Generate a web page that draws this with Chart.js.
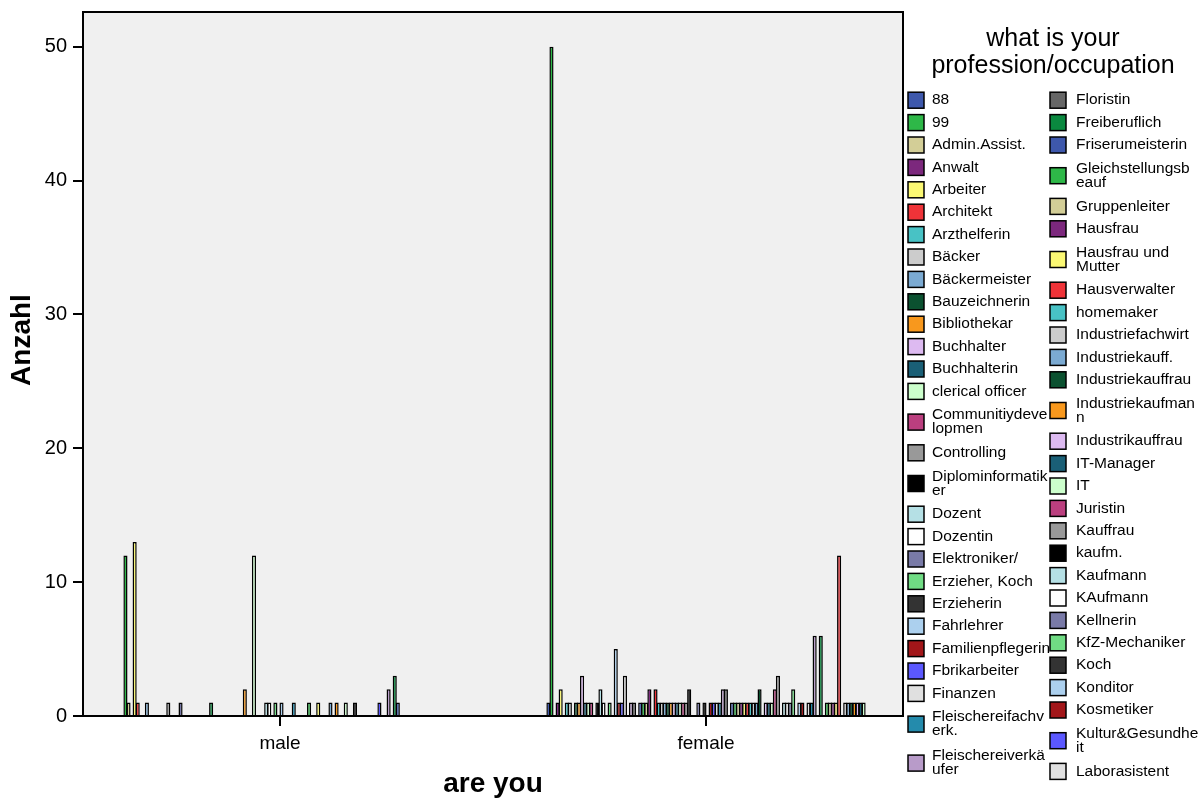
<!DOCTYPE html>
<html>
<head>
<meta charset="utf-8">
<script src="https://cdn.jsdelivr.net/npm/chart.js@4.4.1/dist/chart.umd.min.js"></script>
<style>
  html, body { margin: 0; padding: 0; background: #fff; }
  #wrap { width: 1202px; height: 798px; }
</style>
</head>
<body>
<div id="wrap"><canvas id="chart" width="1202" height="798"></canvas></div>
<script>
// x groups
const groups = ['male', 'female'];

// professions shown in the legend (the rest is cut off, as in the SPSS output)
const professions = [
  '88', '99', 'Admin.Assist.', 'Anwalt', 'Arbeiter', 'Architekt', 'Arzthelferin',
  'Bäcker', 'Bäckermeister', 'Bauzeichnerin', 'Bibliothekar', 'Buchhalter',
  'Buchhalterin', 'clerical officer', 'Communitiydevelopmen', 'Controlling',
  'Diplominformatiker', 'Dozent', 'Dozentin', 'Elektroniker/', 'Erzieher, Koch',
  'Erzieherin', 'Fahrlehrer', 'Familienpflegerin', 'Fbrikarbeiter', 'Finanzen',
  'Fleischereifachverk.', 'Fleischereiverkäufer', 'Floristin', 'Freiberuflich',
  'Friserumeisterin', 'Gleichstellungsbeauf', 'Gruppenleiter', 'Hausfrau',
  'Hausfrau und Mutter', 'Hausverwalter', 'homemaker', 'Industriefachwirt',
  'Industriekauff.', 'Industriekauffrau', 'Industriekaufmann', 'Industrikauffrau',
  'IT-Manager', 'IT', 'Juristin', 'Kauffrau', 'kaufm.', 'Kaufmann', 'KAufmann',
  'Kellnerin', 'KfZ-Mechaniker', 'Koch', 'Konditor', 'Kosmetiker',
  'Kultur&Gesundheit', 'Laborasistent'
];
// categories after "Laborasistent" that the legend no longer shows
const hiddenCount = 48;

// counts per profession (same order)
const male = [
  0, 12, 1, 0, 13, 1, 0, 0, 1, 0,
  0, 0, 0, 0, 0, 1, 0, 0, 0, 1,
  0, 0, 0, 0, 0, 0, 0, 0, 0, 1,
  0, 0, 0, 0, 0, 0, 0, 0, 0, 0,
  2, 0, 0, 12, 0, 0, 0, 1, 1, 0,
  1, 0, 1, 0, 0, 0, 1, 0, 0, 0,
  0, 1, 0, 0, 1, 0, 0, 0, 1, 0,
  1, 0, 0, 1, 0, 0, 1, 0, 0, 0,
  0, 0, 0, 0, 1, 0, 0, 2, 0, 3,
  1, 0, 0, 0, 0, 0, 0, 0, 0, 0,
  0, 0, 0, 0
];
const female = [
  1, 50, 0, 1, 2, 0, 1, 1, 0, 1,
  1, 3, 1, 1, 1, 0, 1, 2, 1, 0,
  1, 0, 5, 1, 1, 3, 0, 1, 1, 0,
  1, 1, 1, 2, 0, 2, 1, 1, 1, 1,
  1, 1, 1, 1, 1, 1, 2, 0, 0, 1,
  0, 1, 0, 1, 1, 1, 1, 2, 2, 0,
  1, 1, 1, 1, 1, 1, 1, 1, 1, 2,
  0, 1, 1, 1, 2, 3, 0, 1, 1, 1,
  2, 0, 1, 1, 0, 1, 1, 6, 0, 6,
  0, 1, 1, 1, 1, 12, 0, 1, 1, 1,
  1, 1, 1, 1
];

const yTicks = [0, 10, 20, 30, 40, 50];

// SPSS default fill cycle (30 colours)
const palette = [
  '#3e58ac', '#2eb848', '#d3ce97', '#7c287d', '#fbf873', '#ef3338', '#48c2c5',
  '#cccccc', '#7baad2', '#0b5130', '#f8981d', '#ddbaf1', '#1a5f76', '#ccffcc',
  '#bb3f7f', '#999999', '#000000', '#b5e0e5', '#ffffff', '#797aa7', '#70dc84',
  '#333333', '#acd0ee', '#a21619', '#5b58ff', '#e0e0e0', '#248bac', '#b89bc9',
  '#666666', '#0a893f'
];

// where SPSS breaks the long legend entries
const legendBreak = {
  'Communitiydevelopmen': 14, 'Diplominformatiker': 16, 'Fleischereifachverk.': 16,
  'Fleischereiverkäufer': 16, 'Gleichstellungsbeauf': 16, 'Hausfrau und Mutter': 13,
  'Industriekaufmann': 16, 'Kultur&Gesundheit': 15
};

const FONT = '"Liberation Sans", Arial, sans-serif';
const allLabels = professions.concat(
  Array.from({length: hiddenCount}, (_, i) => 'weitere ' + (i + 1)));

// SPSS draws the bars a little wider than their slot, so neighbours overlap
const datasets = allLabels.map((name, i) => ({
  label: name,
  data: [
    {x: 0, y: male[i] ? male[i] : null},
    {x: 1, y: female[i] ? female[i] : null}
  ],
  backgroundColor: palette[i % palette.length],
  borderColor: '#000',
  borderWidth: 1.5,
  categoryPercentage: 0.747,
  barPercentage: 1.35
}));

// grey plot background + top/right frame + y title
const framePlugin = {
  id: 'frame',
  beforeDraw(chart) {
    const {ctx, chartArea: a} = chart;
    ctx.save();
    ctx.fillStyle = '#f0f0f0';
    ctx.fillRect(a.left, a.top, a.right - a.left, a.bottom - a.top);
    ctx.restore();
  },
  afterDraw(chart) {
    const {ctx, chartArea: a} = chart;
    ctx.save();
    ctx.strokeStyle = '#000';
    ctx.lineWidth = 2;
    ctx.beginPath();
    ctx.moveTo(a.left, a.top);
    ctx.lineTo(a.right, a.top);
    ctx.lineTo(a.right, a.bottom);
    ctx.stroke();
    // y axis title, a bit above the middle like SPSS puts it
    ctx.fillStyle = '#000';
    ctx.font = 'bold 28px ' + FONT;
    ctx.translate(22, 340);
    ctx.rotate(-Math.PI / 2);
    ctx.textAlign = 'center';
    ctx.textBaseline = 'middle';
    ctx.fillText('Anzahl', 0, 0);
    ctx.restore();
  }
};

// two-column legend on the right
const legendPlugin = {
  id: 'spssLegend',
  afterDraw(chart) {
    const ctx = chart.ctx;
    ctx.save();
    ctx.fillStyle = '#000';
    ctx.textAlign = 'center';
    ctx.textBaseline = 'middle';
    ctx.font = '25px ' + FONT;
    ctx.fillText('what is your', 1053, 39);
    ctx.fillText('profession/occupation', 1053, 66);

    const cols = [{box: 908, text: 932}, {box: 1050, text: 1076}];
    const perCol = 28;
    ctx.textAlign = 'left';
    ctx.font = '15.5px ' + FONT;
    cols.forEach((c, ci) => {
      let y = 89;
      for (let r = 0; r < perCol; r++) {
        const idx = ci * perCol + r;
        const ds = chart.data.datasets[idx];
        const name = ds.label;
        const cut = legendBreak[name];
        const lines = cut ? [name.slice(0, cut).trim(), name.slice(cut).trim()] : [name];
        const h = lines.length > 1 ? 39 : 22.4;
        const cy = y + h / 2;
        ctx.fillStyle = ds.backgroundColor;
        ctx.fillRect(c.box, cy - 8, 16, 16);
        ctx.strokeStyle = '#000';
        ctx.lineWidth = 1.5;
        ctx.strokeRect(c.box, cy - 8, 16, 16);
        ctx.fillStyle = '#000';
        if (lines.length === 1) {
          ctx.fillText(lines[0], c.text, cy);
        } else {
          ctx.fillText(lines[0], c.text, cy - 7);
          ctx.fillText(lines[1], c.text, cy + 7);
        }
        y += h;
      }
    });
    ctx.restore();
  }
};

const noPad = axis => { axis.paddingTop = 0; axis.paddingBottom = 0; axis.paddingLeft = 0; axis.paddingRight = 0; };

const ctx = document.getElementById('chart').getContext('2d');
new Chart(ctx, {
  type: 'bar',
  data: { datasets: datasets },
  options: {
    responsive: false,
    animation: false,
    layout: { padding: { left: 0, right: 299, top: 12, bottom: 0 } },
    plugins: { legend: { display: false }, tooltip: { enabled: false } },
    scales: {
      x: {
        type: 'linear',
        min: -0.4624,
        max: 1.4624,
        offset: false,
        afterBuildTicks: axis => { axis.ticks = [{value: 0}, {value: 1}]; },
        afterFit: axis => { axis.height = 82; noPad(axis); },
        grid: { offset: false, drawOnChartArea: false, drawTicks: true, tickLength: 10, color: '#000', lineWidth: 2 },
        border: { display: true, color: '#000', width: 2 },
        ticks: {
          callback: v => groups[v],
          font: { family: FONT, size: 19 },
          color: '#000',
          padding: 6,
          maxRotation: 0,
          autoSkip: false
        },
        title: {
          display: true,
          text: 'are you',
          color: '#000',
          font: { family: FONT, size: 28, weight: 'bold' },
          padding: { top: 0, bottom: -3 }
        }
      },
      y: {
        min: 0,
        max: 52.6,
        afterBuildTicks: axis => { axis.ticks = yTicks.map(v => ({value: v})); },
        afterFit: axis => { axis.width = 83; noPad(axis); },
        grid: { drawOnChartArea: false, drawTicks: true, tickLength: 10, color: '#000', lineWidth: 2 },
        border: { display: true, color: '#000', width: 2 },
        ticks: {
          font: { family: FONT, size: 20 },
          color: '#000',
          padding: 6
        }
      }
    }
  },
  plugins: [framePlugin, legendPlugin]
});
</script>
</body>
</html>
